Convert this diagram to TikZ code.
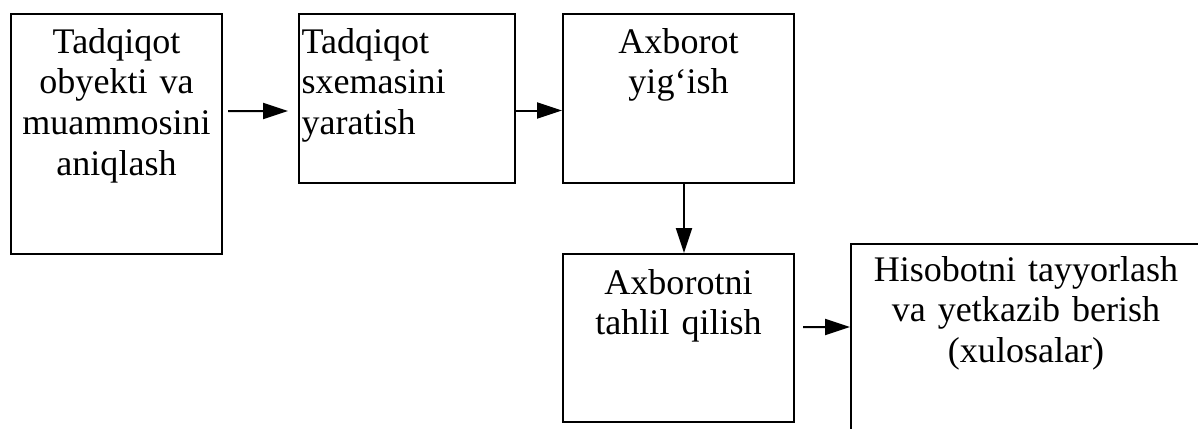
\documentclass[tikz,border=0pt]{standalone}
\usepackage{fontspec}
\setmainfont{Liberation Serif}
\usetikzlibrary{calc, positioning}
\usetikzlibrary{arrows.meta}

\begin{document}
\begin{tikzpicture}[
  box/.style={draw, line width=0.04cm, anchor=north west, inner xsep=0.05cm, inner ysep=0pt, font=\fontsize{20.5}{23.3}\selectfont},
  arr/.style={-{Triangle[length=5mm, width=3.2mm]}, line width=0.04cm}]
\useasboundingbox (0,0) rectangle (23.96,-8.56);
\clip (0,0) rectangle (23.96,-8.56);
\node[box, text width=4.12cm, align=center, text height=0.78cm, text depth=4.02cm] (obj) at (0.2,-0.26) {Tadqiqot\\ obyekti va\\ muammosini\\ aniqlash};
\node[box, text width=4.22cm, align=left, text height=0.78cm, text depth=2.6cm] (scheme) at (5.96,-0.26) {Tadqiqot\\ sxemasini\\ yaratish};
\node[box, text width=4.52cm, align=center, text height=0.78cm, text depth=2.6cm] (info) at (11.24,-0.26) {Axborot\\ yig‘ish};
\node[box, text width=4.52cm, align=center, text height=0.8cm, text depth=2.56cm] (anal) at (11.24,-5.06) {Axborotni\\ tahlil qilish};
\node[box, text width=6.9cm, align=center, text height=0.74cm, text depth=3.4cm] (report) at (17.0,-4.86) {Hisobotni tayyorlash\\ va yetkazib berish\\ (xulosalar)};
\draw[arr] ([shift={(0.1,0.46)}]obj.east) -- ([shift={(-0.2,-0.25)}]scheme.west);
\draw[arr] ([yshift=-2.4mm]scheme.east) -- ([yshift=-2.4mm]info.west);
\draw[arr] ([xshift=1.1mm]info.south) -- ([xshift=1.1mm]anal.north);
\draw[arr] ([shift={(0.16,0.22)}]anal.east) -- ([yshift=4.1mm]report.west);
\end{tikzpicture}
\end{document}
